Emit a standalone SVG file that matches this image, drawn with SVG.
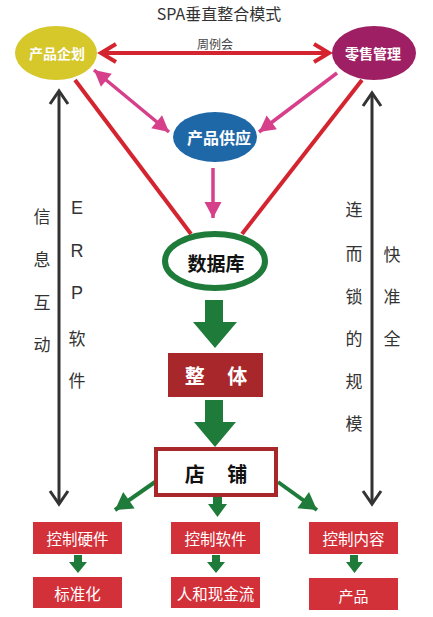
<svg xmlns="http://www.w3.org/2000/svg" width="433" height="617" viewBox="0 0 433 617">
<style>
  text { font-family: "Noto Sans CJK SC", "Noto Sans", sans-serif; text-anchor: middle; dominant-baseline: central; }
  .title { font-size: 16px; fill: #333; }
  .ell { font-size: 14px; font-weight: bold; fill: #fff; }
  .side { font-size: 17px; fill: #333; }
  .box { fill: #d3313a; }
  .boxt { font-size: 15.5px; fill: #fff; }
  .blk { fill: none; stroke: #333; stroke-width: 3; }
  .red { fill: none; stroke: #d4242f; stroke-width: 4; }
  .pink { fill: none; stroke: #d6408a; stroke-width: 3.5; }
  .grn { fill: none; stroke: #1e7b3a; stroke-width: 4; }
  .blockarrow { fill: #1e7b3a; }
</style>
<defs>
  <marker id="chevBlk" markerUnits="userSpaceOnUse" orient="auto-start-reverse" refX="0" refY="0" markerWidth="30" markerHeight="30" overflow="visible">
    <path d="M-13,-9 L0,0 L-13,9" fill="none" stroke="#333" stroke-width="3"/>
  </marker>
  <marker id="chevRed" markerUnits="userSpaceOnUse" orient="auto-start-reverse" refX="0" refY="0" markerWidth="30" markerHeight="30" overflow="visible">
    <path d="M-15,-9 L0,0 L-15,9" fill="none" stroke="#d4242f" stroke-width="4"/>
  </marker>
  <marker id="triPink" markerUnits="userSpaceOnUse" orient="auto-start-reverse" refX="0" refY="0" markerWidth="30" markerHeight="30" overflow="visible">
    <path d="M0,0 L-16,-8.5 L-16,8.5 Z" fill="#d6408a"/>
  </marker>
  <marker id="triGrn" markerUnits="userSpaceOnUse" orient="auto" refX="0" refY="0" markerWidth="30" markerHeight="30" overflow="visible">
    <path d="M0,0 L-17,-10 L-17,10 Z" fill="#1e7b3a"/>
  </marker>
</defs>
<rect width="433" height="617" fill="#fff"/>
<text class="title" x="219" y="13">SPA垂直整合模式</text>

<g id="connectors">
  <line class="blk" x1="59" y1="91" x2="59" y2="504" marker-start="url(#chevBlk)" marker-end="url(#chevBlk)"/>
  <line class="blk" x1="372" y1="93" x2="372" y2="504" marker-start="url(#chevBlk)" marker-end="url(#chevBlk)"/>
  <line class="red" x1="101" y1="53" x2="329" y2="53" marker-start="url(#chevRed)" marker-end="url(#chevRed)"/>
  <text x="215" y="43" style="font-size:12px;fill:#444">周例会</text>
  <line class="red" x1="75" y1="80" x2="191" y2="234"/>
  <line class="red" x1="362" y1="80" x2="242" y2="234"/>
  <line class="pink" x1="94" y1="70" x2="169" y2="132" marker-start="url(#triPink)" marker-end="url(#triPink)"/>
  <line class="pink" x1="337" y1="73" x2="259" y2="132" marker-end="url(#triPink)"/>
  <line class="pink" x1="213" y1="168" x2="213" y2="218" stroke-width="3" marker-end="url(#triPink)"/>
  <polygon class="blockarrow" points="205,300 223,300 223,322 237,322 215,348 193,322 205,322"/>
  <polygon class="blockarrow" points="205,400 223,400 223,422 236,422 215,447 194,422 205,422"/>
  <line class="grn" x1="155" y1="482" x2="115" y2="510" marker-end="url(#triGrn)"/>
  <line class="grn" x1="278" y1="482" x2="317" y2="510" marker-end="url(#triGrn)"/>
  <polygon class="blockarrow" points="213,497 222,497 222,504 227,504 217.5,517 208,504 213,504"/>
  <polygon class="blockarrow" points="74,555 82,555 82,562 87,562 78,573 69,562 74,562"/>
  <polygon class="blockarrow" points="212,555 220,555 220,562 225,562 216,573 207,562 212,562"/>
  <polygon class="blockarrow" points="350,555 358,555 358,562 363,562 354.5,573 346,562 350,562"/>
</g>

<g id="side-labels">
  <text class="side" x="42" y="215">信</text>
  <text class="side" x="42" y="258">息</text>
  <text class="side" x="42" y="301">互</text>
  <text class="side" x="42" y="343">动</text>
  <text class="side" x="77" y="208" style="font-family:'Liberation Sans','Noto Sans',sans-serif;font-size:18px">E</text>
  <text class="side" x="77" y="251" style="font-family:'Liberation Sans','Noto Sans',sans-serif;font-size:18px">R</text>
  <text class="side" x="77" y="293" style="font-family:'Liberation Sans','Noto Sans',sans-serif;font-size:18px">P</text>
  <text class="side" x="77" y="337">软</text>
  <text class="side" x="77" y="379">件</text>
  <text class="side" x="354" y="208">连</text>
  <text class="side" x="354" y="252">而</text>
  <text class="side" x="354" y="295">锁</text>
  <text class="side" x="354" y="337">的</text>
  <text class="side" x="354" y="380">规</text>
  <text class="side" x="354" y="422">模</text>
  <text class="side" x="392" y="253">快</text>
  <text class="side" x="392" y="295">准</text>
  <text class="side" x="392" y="337">全</text>
</g>

<g id="node-plan">
  <ellipse cx="56" cy="53" rx="41" ry="27" fill="#d6c72b"/>
  <text class="ell" x="57" y="53">产品企划</text>
</g>
<g id="node-retail">
  <ellipse cx="374" cy="53" rx="42" ry="27" fill="#9e1f63"/>
  <text class="ell" x="373" y="53">零售管理</text>
</g>
<g id="node-supply">
  <ellipse cx="215" cy="137" rx="42" ry="25" fill="#1f68a8"/>
  <text class="ell" x="219" y="137" style="font-size:16px">产品供应</text>
</g>
<g id="node-db">
  <ellipse cx="215" cy="261" rx="50" ry="27" fill="#fff" stroke="#1e7b3a" stroke-width="6"/>
  <text x="216" y="262" style="font-size:19px;font-weight:bold;fill:#111">数据库</text>
</g>
<g id="node-whole">
  <rect x="168" y="353" width="95" height="44" fill="#a8272b"/>
  <text x="216" y="375" style="font-size:20px;font-weight:bold;fill:#fff;word-spacing:18px" xml:space="preserve">整 体</text>
</g>
<g id="node-store">
  <rect x="156" y="449" width="120" height="46" fill="#fff" stroke="#a8272b" stroke-width="4"/>
  <text x="216" y="473" style="font-size:20px;font-weight:bold;fill:#111;word-spacing:18px" xml:space="preserve">店 铺</text>
</g>
<g id="node-hw">
  <rect class="box" x="33" y="522" width="89" height="32"/>
  <text class="boxt" x="77.5" y="538">控制硬件</text>
</g>
<g id="node-std">
  <rect class="box" x="33" y="577" width="89" height="31"/>
  <text class="boxt" x="77.5" y="593">标准化</text>
</g>
<g id="node-sw">
  <rect class="box" x="171" y="522" width="89" height="32"/>
  <text class="boxt" x="215.5" y="538">控制软件</text>
</g>
<g id="node-cash">
  <rect class="box" x="171" y="577" width="89" height="31"/>
  <text class="boxt" x="215.5" y="593">人和现金流</text>
</g>
<g id="node-content">
  <rect class="box" x="309" y="522" width="89" height="32"/>
  <text class="boxt" x="353.5" y="538">控制内容</text>
</g>
<g id="node-product">
  <rect class="box" x="309" y="578" width="89" height="32"/>
  <text class="boxt" x="353.5" y="595" style="font-size:15px">产品</text>
</g>
</svg>
